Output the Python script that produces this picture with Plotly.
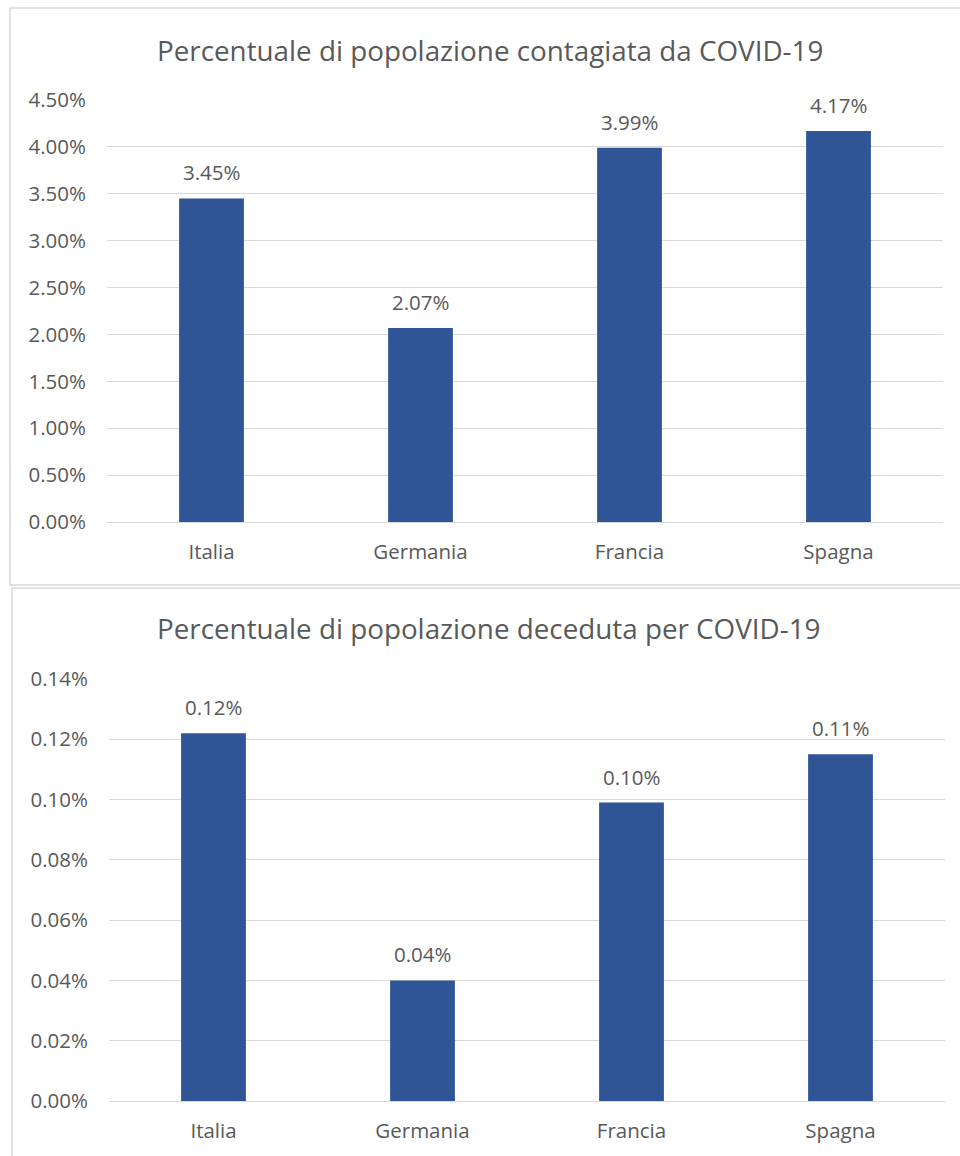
import plotly.graph_objects as go

# Country categories shared by both charts
paesi = ["Italia", "Germania", "Francia", "Spagna"]

# Share of population infected (fraction of 1)
contagiati = [0.0345, 0.0207, 0.0399, 0.0417]

# Share of population deceased (fraction of 1)
deceduti = [0.00122, 0.00040, 0.00099, 0.00115]

titolo_contagi = "Percentuale di popolazione contagiata da COVID-19"
titolo_decessi = "Percentuale di popolazione deceduta per COVID-19"

W, H = 960, 1156
BAR = "#2F5597"
GRID = "#D9D9D9"
TXT = "#595959"
FONT = "Open Sans"


def py(px):
    """Convert a pixel row (from top) to paper y."""
    return 1 - px / H


def pxx(px):
    return px / W


fig = go.Figure()

fig.add_trace(go.Bar(x=paesi, y=contagiati, marker=dict(color=BAR, line=dict(width=0)),
                     xaxis="x", yaxis="y", hoverinfo="x+y"))
fig.add_trace(go.Bar(x=paesi, y=deceduti, marker=dict(color=BAR, line=dict(width=0)),
                     xaxis="x2", yaxis="y2", hoverinfo="x+y"))

axis_font = dict(family=FONT, size=20.5, color=TXT)

common_x = dict(showgrid=False, showline=False, zeroline=False, ticks="", automargin=False,
                tickfont=axis_font, ticklabelstandoff=15, fixedrange=True)
common_y = dict(showgrid=True, gridcolor=GRID, gridwidth=1, zeroline=True,
                zerolinecolor=GRID, zerolinewidth=1, showline=False, ticks="",
                automargin=False, tickfont=axis_font, tickformat=".2%",
                ticklabelstandoff=20, fixedrange=True)

fig.update_layout(
    width=W, height=H,
    margin=dict(l=0, r=0, t=0, b=0, autoexpand=False),
    paper_bgcolor="white", plot_bgcolor="white",
    showlegend=False,
    bargap=0.69,
    font=dict(family=FONT, color=TXT),
    xaxis=dict(domain=[pxx(107), pxx(943)], anchor="y", **common_x),
    yaxis=dict(domain=[py(522), py(100)], anchor="x", range=[0, 0.045], dtick=0.005, **common_y),
    xaxis2=dict(domain=[pxx(109), pxx(945)], anchor="y2", **common_x),
    yaxis2=dict(domain=[py(1101), py(679)], anchor="x2", range=[0, 0.0014], dtick=0.0002, **common_y),
)

# Value labels above each bar, formatted from the same values
annotations = []
for xa, ya, vals in (("x", "y", contagiati), ("x2", "y2", deceduti)):
    for p, v in zip(paesi, vals):
        annotations.append(dict(x=p, y=v, xref=xa, yref=ya, text=f"{v:.2%}",
                                showarrow=False, yanchor="bottom", yshift=10,
                                font=dict(family=FONT, size=20.5, color=TXT)))

# Chart titles
annotations.append(dict(x=pxx(490), y=py(50), xref="paper", yref="paper", text=titolo_contagi,
                        showarrow=False, xanchor="center", yanchor="middle",
                        font=dict(family=FONT, size=27.8, color=TXT)))
annotations.append(dict(x=pxx(488), y=py(628), xref="paper", yref="paper", text=titolo_decessi,
                        showarrow=False, xanchor="center", yanchor="middle",
                        font=dict(family=FONT, size=27.8, color=TXT)))
fig.update_layout(annotations=annotations)

# Chart area frames
fig.update_layout(shapes=[
    dict(type="rect", xref="paper", yref="paper", x0=pxx(10), x1=1.02, y0=py(585), y1=py(8),
         line=dict(color=GRID, width=1.5), fillcolor="rgba(0,0,0,0)", layer="below"),
    dict(type="rect", xref="paper", yref="paper", x0=pxx(12), x1=1.02, y0=-0.02, y1=py(588),
         line=dict(color=GRID, width=1.5), fillcolor="rgba(0,0,0,0)", layer="below"),
])

fig.write_html("out.html")
